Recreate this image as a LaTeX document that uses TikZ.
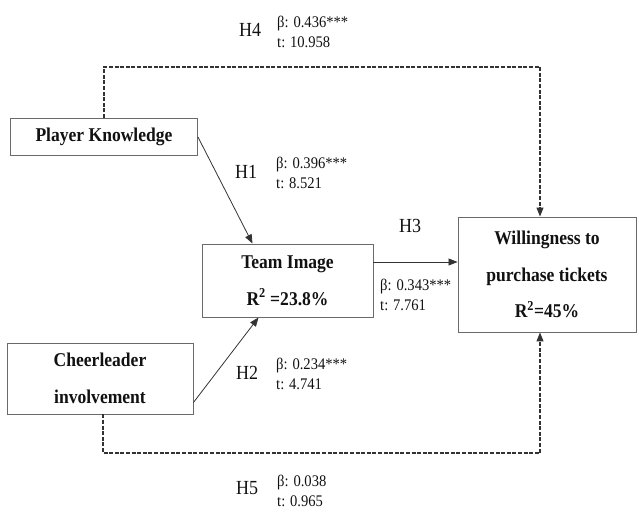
\documentclass[tikz,border=0pt]{standalone}
\usepackage{fontspec}
\setmainfont{Liberation Serif}[FakeStretch=0.9]
\usepackage{xcolor}
\definecolor{boxLine}{HTML}{6A6A6A}
\definecolor{arrowLine}{HTML}{333333}
\definecolor{textMain}{HTML}{111111}
\usepackage{tikz}
\usetikzlibrary{calc, positioning, arrows.meta}
\tikzset{
  varbox/.style={draw=boxLine, line width=0.9pt, fill=white, align=center, inner sep=0pt,
    text=textMain, font=\bfseries\fontsize{19.5}{36.5}\selectfont},
  causal/.style={draw=arrowLine, line width=0.8pt, -{Triangle[length=9pt, width=7pt]}},
  dashpath/.style={draw=arrowLine, line width=1.1pt, dash pattern=on 4pt off 1.6pt,
    -{Triangle[length=9pt, width=7pt]}},
  hyp/.style={text=textMain, inner sep=0pt, font=\fontsize{20}{22}\selectfont},
  stat/.style={text=textMain, inner sep=0pt, anchor=west, align=left,
    font=\fontsize{16.2}{20}\selectfont}
}

\begin{document}
\begin{tikzpicture}[x=1pt, y=-1pt]
  \useasboundingbox (0,0) rectangle (639,511);

  % constructs
  \node[varbox, minimum width=187pt, minimum height=37pt] (knowledge) at (104,137) {Player Knowledge};
  \node[varbox, minimum width=171pt, minimum height=73pt] (image) at (287.5,280.5) {Team Image\\R\textsuperscript{2} =23.8\%};
  \node[varbox, minimum width=178pt, minimum height=115pt] (willing) at (547,274.5) {Willingness to\\purchase tickets\\R\textsuperscript{2}=45\%};
  \node[varbox, minimum width=186pt, minimum height=71pt] (cheer) at (100,378.5) {Cheerleader\\involvement};

  % direct paths
  \draw[causal] (knowledge.east) -- ([xshift=-35pt]image.north);
  \draw[causal] ([yshift=-24pt]cheer.east) -- ([xshift=-29pt]image.south);
  \coordinate (h3start) at ([yshift=18.5pt]image.east);
  \draw[causal] (h3start) -- (h3start -| willing.west);

  % dashed paths
  \coordinate (h4corner) at (540,67);
  \draw[dashpath] (knowledge.north) |- (h4corner) -- (h4corner |- willing.north);
  \coordinate (h5start) at ([xshift=3pt]cheer.south);
  \coordinate (h5corner) at (540,453);
  \draw[dashpath] (h5start) |- (h5corner) -- (h5corner |- willing.south);

  % hypothesis labels
  \node[hyp] (h4) at (250,30) {H4};
  \node[stat] (h4stat) at (277,32) {β: 0.436***\\t: 10.958};
  \node[hyp] (h1) at (246,172) {H1};
  \node[stat] (h1stat) at (276,172.5) {β: 0.396***\\t: 8.521};
  \node[hyp] (h3) at (410,226) {H3};
  \node[stat] (h3stat) at (380,295) {β: 0.343***\\t: 7.761};
  \node[hyp] (h2) at (247,373) {H2};
  \node[stat] (h2stat) at (276,374) {β: 0.234***\\t: 4.741};
  \node[hyp] (h5) at (247,488) {H5};
  \node[stat] (h5stat) at (277,491) {β: 0.038\\t: 0.965};
\end{tikzpicture}
\end{document}
